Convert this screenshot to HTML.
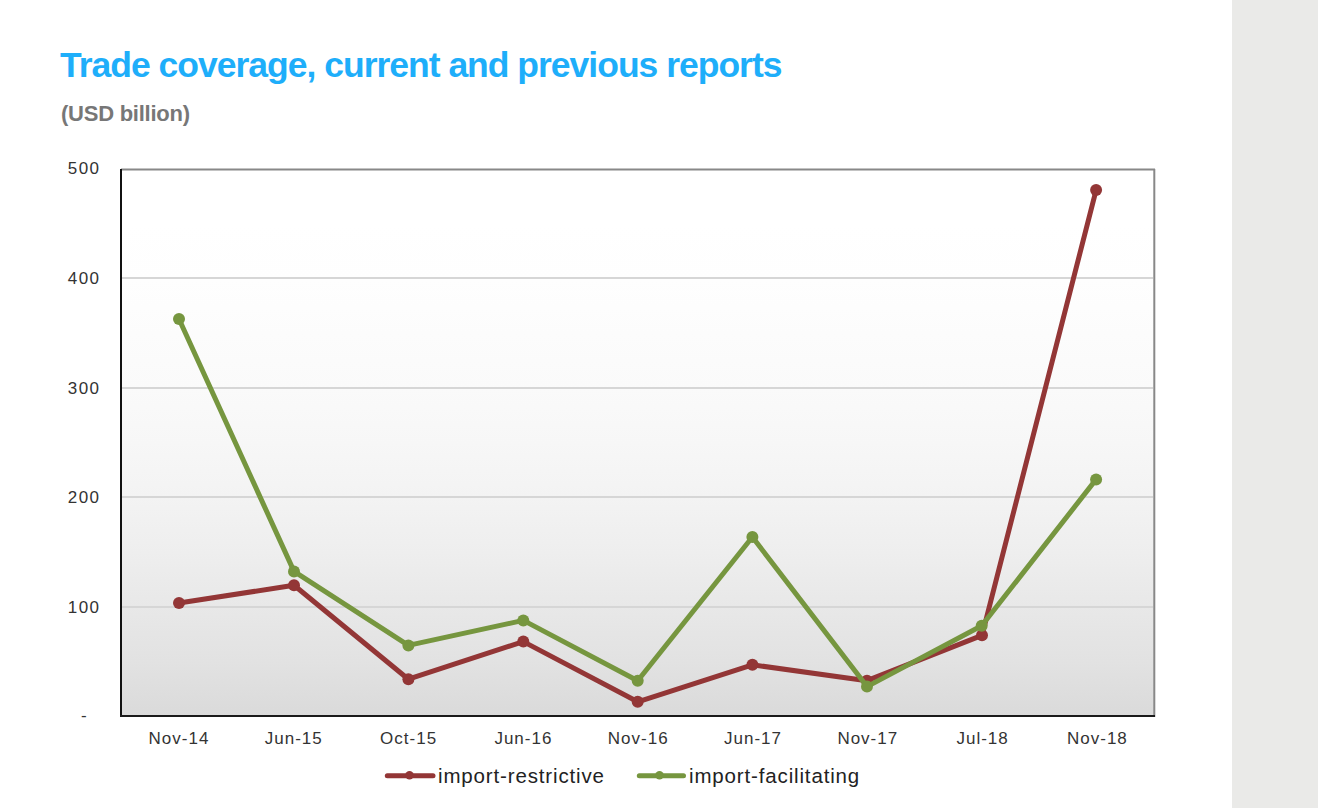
<!DOCTYPE html>
<html><head><meta charset="utf-8">
<style>
html,body{margin:0;padding:0;width:1318px;height:808px;overflow:hidden;background:#fff;}
body{position:relative;font-family:"Liberation Sans",sans-serif;}
#side{position:absolute;left:1232px;top:0;width:86px;height:808px;background:#eaeae8;}
#title{position:absolute;left:60px;top:45px;margin:0;font-weight:bold;font-size:35.5px;letter-spacing:-1px;color:#1eaefa;white-space:nowrap;line-height:40px;}
#sub{position:absolute;left:61px;top:101px;margin:0;font-weight:bold;font-size:22px;letter-spacing:-0.25px;color:#777;white-space:nowrap;line-height:26px;}
svg{position:absolute;left:0;top:0;}
.ax{font-family:"Liberation Sans",sans-serif;font-size:17px;letter-spacing:1px;fill:#333;}
.ay{letter-spacing:1.4px;}
.lg{font-family:"Liberation Sans",sans-serif;font-size:20.5px;letter-spacing:0.85px;fill:#222;}
</style></head>
<body>
<div id="side"></div>
<div id="title">Trade coverage, current and previous reports</div>
<div id="sub">(USD billion)</div>
<svg width="1232" height="808" viewBox="0 0 1232 808">
<defs>
<linearGradient id="bg" x1="0" y1="0" x2="0" y2="1">
<stop offset="0.00" stop-color="rgb(255,255,255)"/>
<stop offset="0.10" stop-color="rgb(255,255,255)"/>
<stop offset="0.20" stop-color="rgb(254,254,254)"/>
<stop offset="0.30" stop-color="rgb(252,252,252)"/>
<stop offset="0.40" stop-color="rgb(250,250,250)"/>
<stop offset="0.50" stop-color="rgb(247,247,247)"/>
<stop offset="0.60" stop-color="rgb(243,243,243)"/>
<stop offset="0.70" stop-color="rgb(238,238,238)"/>
<stop offset="0.80" stop-color="rgb(232,232,232)"/>
<stop offset="0.90" stop-color="rgb(226,226,226)"/>
<stop offset="1.00" stop-color="rgb(218,218,218)"/>
</linearGradient>
</defs>
<rect x="121" y="170" width="1033" height="546" fill="url(#bg)"/>
<g stroke="#d6d6d6" stroke-width="2">
<line x1="122" y1="278" x2="1153" y2="278"/>
<line x1="122" y1="388" x2="1153" y2="388"/>
<line x1="122" y1="497" x2="1153" y2="497"/>
<line x1="122" y1="607" x2="1153" y2="607"/>
</g>
<!-- frame -->
<line x1="121" y1="169.6" x2="1155" y2="169.6" stroke="#888" stroke-width="2"/>
<line x1="1154.3" y1="169" x2="1154.3" y2="717" stroke="#888" stroke-width="2"/>
<line x1="121" y1="169" x2="121" y2="717" stroke="#111" stroke-width="2"/>
<line x1="120" y1="716" x2="1155" y2="716" stroke="#1a1a1a" stroke-width="2"/>
<!-- series red -->
<g fill="#933636" stroke="#933636">
<polyline fill="none" stroke-width="5" stroke-linejoin="round" points="179,603 294,585.3 408.4,679.2 523.3,641.6 637.7,701.8 752.4,664.8 867,680.7 982,635.3 1096.1,190.1"/>
<g stroke="none">
<circle cx="179" cy="603" r="6"/><circle cx="294" cy="585.3" r="6"/><circle cx="408.4" cy="679.2" r="6"/><circle cx="523.3" cy="641.6" r="6"/><circle cx="637.7" cy="701.8" r="6"/><circle cx="752.4" cy="664.8" r="6"/><circle cx="867" cy="680.7" r="6"/><circle cx="982" cy="635.3" r="6"/><circle cx="1096.1" cy="190.1" r="6"/>
</g>
</g>
<!-- series green -->
<g fill="#76963f" stroke="#76963f">
<polyline fill="none" stroke-width="5" stroke-linejoin="round" points="179,319 294,571.4 408.4,645.4 523.3,620.4 637.7,680.8 752.4,537 867,686.6 981.7,625.7 1096.1,479.4"/>
<g stroke="none">
<circle cx="179" cy="319" r="6"/><circle cx="294" cy="571.4" r="6"/><circle cx="408.4" cy="645.4" r="6"/><circle cx="523.3" cy="620.4" r="6"/><circle cx="637.7" cy="680.8" r="6"/><circle cx="752.4" cy="537" r="6"/><circle cx="867" cy="686.6" r="6"/><circle cx="981.7" cy="625.7" r="6"/><circle cx="1096.1" cy="479.4" r="6"/>
</g>
</g>
<!-- y axis labels -->
<g class="ax ay" text-anchor="end">
<text x="100.4" y="174">500</text>
<text x="100.4" y="284">400</text>
<text x="100.4" y="394">300</text>
<text x="100.4" y="502.5">200</text>
<text x="100.4" y="612.5">100</text>
<text x="88" y="721">-</text>
</g>
<!-- x axis labels -->
<g class="ax" text-anchor="middle">
<text x="179.0" y="744">Nov-14</text>
<text x="293.8" y="744">Jun-15</text>
<text x="408.6" y="744">Oct-15</text>
<text x="523.4" y="744">Jun-16</text>
<text x="638.2" y="744">Nov-16</text>
<text x="753.0" y="744">Jun-17</text>
<text x="867.8" y="744">Nov-17</text>
<text x="982.6" y="744">Jul-18</text>
<text x="1097.4" y="744">Nov-18</text>
</g>
<!-- legend -->
<g>
<line x1="387.3" y1="775.8" x2="433" y2="775.8" stroke="#933636" stroke-width="5" stroke-linecap="round"/>
<circle cx="409.5" cy="775.2" r="4.2" fill="#933636"/>
<text class="lg" x="438" y="783">import-restrictive</text>
<line x1="639.3" y1="775.8" x2="683.5" y2="775.8" stroke="#76963f" stroke-width="5" stroke-linecap="round"/>
<circle cx="659.5" cy="775.2" r="4.2" fill="#76963f"/>
<text class="lg" x="689" y="783">import-facilitating</text>
</g>
</svg>
</body></html>
